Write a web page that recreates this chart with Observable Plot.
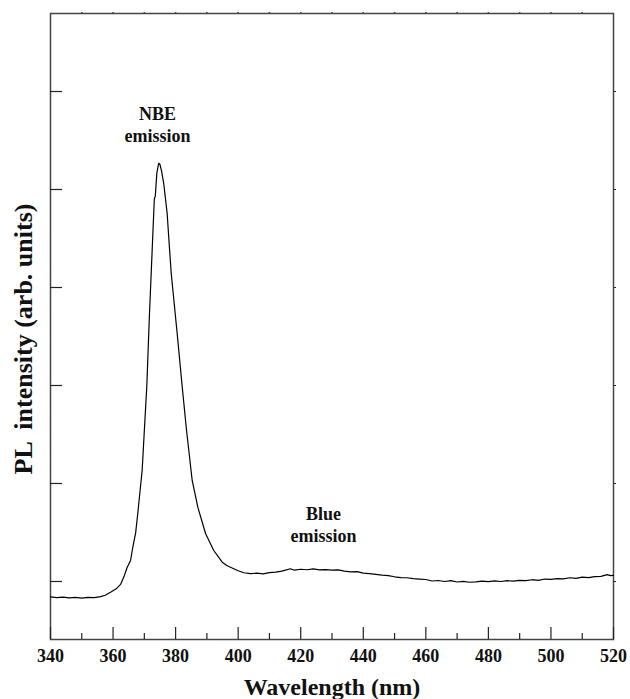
<!DOCTYPE html>
<html>
<head>
<meta charset="utf-8">
<script src="https://cdn.jsdelivr.net/npm/d3@7"></script>
<script src="https://cdn.jsdelivr.net/npm/@observablehq/plot@0.6"></script>
<style>
  html, body { margin: 0; padding: 0; background: #fff; }
  svg text { font-family: "Liberation Serif", serif !important; font-weight: bold; }
</style>
</head>
<body>
<div id="chart"></div>
<script>
// Wavelength (nm) and PL intensity (arb. units)
const wavelength = [
  340, 342, 344, 346, 348, 350, 352, 354, 356, 357.5, 359.2, 361, 362.4, 363.5, 364.5,
  365.6, 366.3, 367.2, 367.9, 369.3, 370.8, 371.6, 372.5, 373.2, 373.5, 374.0, 374.6,
  375.0, 375.5, 376.2, 377.3, 377.8, 378.6, 380.5, 382.1, 383.5, 385.3, 387.1, 389.6,
  392.2, 394.9, 396.5, 398.6, 400, 401.8, 404, 406, 408, 410, 412, 414, 416.7, 418, 420,
  422, 424, 426, 428, 430, 432, 434, 436, 438, 440, 442, 444, 446, 448, 450, 452, 454,
  456, 458, 460, 462, 464, 466, 468, 470, 472, 474, 476, 478, 480, 482, 484, 486, 488,
  490, 492, 494, 496, 498, 500, 502, 504, 506, 508, 510, 512, 514, 516, 518, 519, 520
];
const intensity = [
  -0.158, -0.165, -0.160, -0.168, -0.163, -0.170, -0.162, -0.165, -0.155, -0.140, -0.110, -0.075, -0.030, 0.050, 0.143,
  0.214, 0.347, 0.490, 0.694, 1.133, 2.000, 2.697, 3.378, 3.905, 3.930, 4.170, 4.268,
  4.255, 4.190, 4.061, 3.755, 3.513, 3.143, 2.531, 1.990, 1.541, 1.031, 0.758, 0.487,
  0.316, 0.197, 0.160, 0.130, 0.110, 0.089, 0.080, 0.085, 0.078, 0.090, 0.095, 0.105, 0.130, 0.115, 0.125,
  0.120, 0.128, 0.118, 0.122, 0.115, 0.118, 0.105, 0.098, 0.100, 0.085, 0.080, 0.072, 0.065, 0.060, 0.048, 0.040, 0.038,
  0.030, 0.025, 0.020, 0.005, 0.010, 0.000, 0.008, -0.005, 0.002, -0.008, -0.004, 0.003, -0.002, 0.006, 0.000, 0.008, 0.004,
  0.012, 0.008, 0.018, 0.012, 0.025, 0.022, 0.030, 0.026, 0.038, 0.032, 0.045, 0.040, 0.050, 0.052, 0.070, 0.060, 0.062
];

const xMajorTicks = [340, 360, 380, 400, 420, 440, 460, 480, 500, 520];
const xMinorTicks = [350, 370, 390, 410, 430, 450, 470, 490, 510];
const xTopTicks = [350, 360, 370, 380, 390, 400, 410, 420, 430, 440, 450, 460, 470, 480, 490, 500, 510];
const yTicks = [0, 1, 2, 3, 4, 5];

const annotationText = ["NBE\nemission", "Blue\nemission"];
const annotationX = [374.2, 427.3];
const annotationY = [4.67, 0.587];

const xTitle = "Wavelength (nm)";
const yTitle = "PL  intensity (arb. units)";

const spectrum = wavelength.map((w, i) => ({w, v: intensity[i]}));
const annotations = annotationText.map((t, i) => ({t, x: annotationX[i], y: annotationY[i]}));

const font = "Liberation Serif";

const chart = Plot.plot({
  width: 630,
  height: 699,
  marginLeft: 50,
  marginRight: 17,
  marginTop: 13,
  marginBottom: 60,
  style: {fontFamily: font, background: "#fff", color: "#111"},
  x: {domain: [340, 520]},
  y: {domain: [-0.592, 5.796]},
  marks: [
    Plot.frame({stroke: "#444", strokeWidth: 1.5}),
    // bottom major ticks (inward)
    Plot.axisX({ticks: xMajorTicks, tickSize: 12, dy: -12, tickFormat: () => "", stroke: "#222", strokeWidth: 1.2, label: null}),
    // bottom minor ticks (inward)
    Plot.axisX({ticks: xMinorTicks, tickSize: 6, dy: -6, tickFormat: () => "", stroke: "#222", strokeWidth: 1.2, label: null}),
    // bottom tick labels
    Plot.axisX({ticks: xMajorTicks, tickSize: 0, tickPadding: 10, tickFormat: d => String(d),
      fontSize: 18, fontWeight: "bold", fontFamily: font, fill: "#111", label: null}),
    // top small ticks
    Plot.axisX({anchor: "top", ticks: xTopTicks, tickSize: 2, tickFormat: () => "", stroke: "#444", strokeWidth: 1.5, label: null}),
    // left ticks (inward)
    Plot.axisY({ticks: yTicks, tickSize: 12, dx: 12, tickFormat: () => "", stroke: "#222", strokeWidth: 1.2, label: null}),
    // right small ticks
    Plot.axisY({anchor: "right", ticks: yTicks, tickSize: 2, tickFormat: () => "", stroke: "#222", strokeWidth: 1.2, label: null}),
    // spectrum
    Plot.line(spectrum, {x: "w", y: "v", stroke: "#000", strokeWidth: 1.2}),
    // annotations
    Plot.text(annotations, {x: "x", y: "y", text: "t", fontSize: 18, fontWeight: "bold", fontFamily: font,
      fill: "#111", lineHeight: 1.22, textAnchor: "middle", lineAnchor: "middle"}),
    // axis titles
    Plot.text([xTitle], {frameAnchor: "bottom", dy: 55, lineAnchor: "bottom", textAnchor: "middle", fontSize: 24, fontWeight: "bold",
      fontFamily: font, fill: "#111", text: d => d}),
    Plot.text([yTitle], {frameAnchor: "left", dx: -18.5, dy: 12.5, rotate: -90, lineAnchor: "bottom", textAnchor: "middle",
      fontSize: 26, fontWeight: "bold", fontFamily: font, fill: "#111", text: d => d, style: "white-space: pre"})
  ]
});
document.getElementById("chart").appendChild(chart);
</script>
</body>
</html>
